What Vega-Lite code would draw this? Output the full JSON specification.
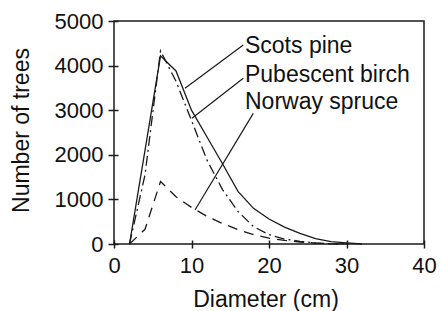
{
  "$schema": "https://vega.github.io/schema/vega-lite/v6.json",
  "width": 310,
  "height": 223,
  "autosize": {"type": "none"},
  "padding": {"left": 114, "top": 21, "right": 17, "bottom": 67},
  "background": "white",
  "config": {
    "view": {"stroke": null},
    "font": "Liberation Sans"
  },
  "datasets": {
    "curves": [
      {"species": "Scots pine", "d": 2, "n": 0},
      {"species": "Scots pine", "d": 4, "n": 2100},
      {"species": "Scots pine", "d": 6, "n": 4220},
      {"species": "Scots pine", "d": 8, "n": 3880},
      {"species": "Scots pine", "d": 10, "n": 3000},
      {"species": "Scots pine", "d": 12, "n": 2400},
      {"species": "Scots pine", "d": 14, "n": 1800},
      {"species": "Scots pine", "d": 16, "n": 1180},
      {"species": "Scots pine", "d": 18, "n": 800},
      {"species": "Scots pine", "d": 20, "n": 560},
      {"species": "Scots pine", "d": 22, "n": 380},
      {"species": "Scots pine", "d": 24, "n": 240},
      {"species": "Scots pine", "d": 26, "n": 120},
      {"species": "Scots pine", "d": 28, "n": 55},
      {"species": "Scots pine", "d": 30, "n": 25},
      {"species": "Scots pine", "d": 32, "n": 0},
      {"species": "Pubescent birch", "d": 2, "n": 0},
      {"species": "Pubescent birch", "d": 4, "n": 1550},
      {"species": "Pubescent birch", "d": 6, "n": 4330},
      {"species": "Pubescent birch", "d": 8, "n": 3650},
      {"species": "Pubescent birch", "d": 10, "n": 2770},
      {"species": "Pubescent birch", "d": 12, "n": 1880},
      {"species": "Pubescent birch", "d": 14, "n": 1220},
      {"species": "Pubescent birch", "d": 16, "n": 730},
      {"species": "Pubescent birch", "d": 18, "n": 390},
      {"species": "Pubescent birch", "d": 20, "n": 210},
      {"species": "Pubescent birch", "d": 22, "n": 110},
      {"species": "Pubescent birch", "d": 24, "n": 60},
      {"species": "Pubescent birch", "d": 26, "n": 25},
      {"species": "Pubescent birch", "d": 28, "n": 5},
      {"species": "Pubescent birch", "d": 30, "n": 0},
      {"species": "Norway spruce", "d": 2, "n": 0},
      {"species": "Norway spruce", "d": 4, "n": 330},
      {"species": "Norway spruce", "d": 6, "n": 1400},
      {"species": "Norway spruce", "d": 8, "n": 1060},
      {"species": "Norway spruce", "d": 10, "n": 820},
      {"species": "Norway spruce", "d": 12, "n": 620},
      {"species": "Norway spruce", "d": 14, "n": 460},
      {"species": "Norway spruce", "d": 16, "n": 320},
      {"species": "Norway spruce", "d": 18, "n": 210},
      {"species": "Norway spruce", "d": 20, "n": 130},
      {"species": "Norway spruce", "d": 22, "n": 80},
      {"species": "Norway spruce", "d": 24, "n": 45},
      {"species": "Norway spruce", "d": 26, "n": 20},
      {"species": "Norway spruce", "d": 28, "n": 5},
      {"species": "Norway spruce", "d": 30, "n": 0}
    ],
    "annot": [
      {"species": "Scots pine", "tx": 16.9, "ty": 4276, "lx1": 16.68, "ly1": 4462, "lx2": 9.16, "ly2": 3491},
      {"species": "Pubescent birch", "tx": 16.9, "ty": 3639, "lx1": 16.68, "ly1": 3715, "lx2": 10.06, "ly2": 2818},
      {"species": "Norway spruce", "tx": 16.9, "ty": 3020, "lx1": 17.97, "ly1": 2930, "lx2": 10.45, "ly2": 762}
    ],
    "box": [
      {"x0": 0, "x1": 40, "y0": 0, "y1": 5000}
    ]
  },
  "layer": [
    {
      "data": {"name": "box"},
      "mark": {"type": "rect", "fill": "transparent", "stroke": "#1a1a1a", "strokeWidth": 1.5},
      "encoding": {
        "x": {
          "field": "x0", "type": "quantitative",
          "scale": {"domain": [0, 40], "nice": false},
          "axis": {
            "values": [0, 5, 10, 15, 20, 25, 30, 35, 40],
            "labelExpr": "datum.value % 10 === 0 ? datum.label : ''",
            "domain": false, "grid": false,
            "offset": -4, "tickSize": 8, "tickColor": "#1a1a1a", "tickWidth": 1.5,
            "labelFontSize": 22, "labelColor": "#111", "labelPadding": 7,
            "labelFont": "Liberation Sans", "labelFlush": false,
            "title": "Diameter (cm)", "titleFontSize": 23, "titleFontWeight": "normal",
            "titleFont": "Liberation Sans", "titleColor": "#111",
            "titleX": 151.5, "titleY": 66, "titleBaseline": "alphabetic", "titleAlign": "center"
          }
        },
        "x2": {"field": "x1"},
        "y": {
          "field": "y0", "type": "quantitative",
          "scale": {"domain": [0, 5000], "nice": false},
          "axis": {
            "values": [0, 1000, 2000, 3000, 4000, 5000],
            "format": "d",
            "domain": false, "grid": false,
            "offset": -4, "tickSize": 10, "tickColor": "#1a1a1a", "tickWidth": 1.5,
            "labelFontSize": 22, "labelColor": "#111", "labelPadding": 5,
            "labelFont": "Liberation Sans", "labelFlush": false,
            "title": "Number of trees", "titleFontSize": 23, "titleFontWeight": "normal",
            "titleFont": "Liberation Sans", "titleColor": "#111",
            "titleX": -90, "titleY": 109, "titleBaseline": "alphabetic", "titleAlign": "center", "titleAngle": -90
          }
        },
        "y2": {"field": "y1"}
      }
    },
    {
      "data": {"name": "curves"},
      "transform": [{"filter": "datum.species === 'Scots pine'"}],
      "mark": {"type": "line", "color": "#1a1a1a", "strokeWidth": 1.3},
      "encoding": {
        "x": {"field": "d", "type": "quantitative"},
        "y": {"field": "n", "type": "quantitative"}
      }
    },
    {
      "data": {"name": "curves"},
      "transform": [{"filter": "datum.species === 'Pubescent birch'"}],
      "mark": {"type": "line", "color": "#1a1a1a", "strokeWidth": 1.3, "strokeDash": [10, 4, 2, 4]},
      "encoding": {
        "x": {"field": "d", "type": "quantitative"},
        "y": {"field": "n", "type": "quantitative"}
      }
    },
    {
      "data": {"name": "curves"},
      "transform": [{"filter": "datum.species === 'Norway spruce'"}],
      "mark": {"type": "line", "color": "#1a1a1a", "strokeWidth": 1.3, "strokeDash": [10, 7]},
      "encoding": {
        "x": {"field": "d", "type": "quantitative"},
        "y": {"field": "n", "type": "quantitative"}
      }
    },
    {
      "data": {"name": "annot"},
      "mark": {"type": "rule", "color": "#1a1a1a", "strokeWidth": 1.2},
      "encoding": {
        "x": {"field": "lx1", "type": "quantitative"},
        "y": {"field": "ly1", "type": "quantitative"},
        "x2": {"field": "lx2"},
        "y2": {"field": "ly2"}
      }
    },
    {
      "data": {"name": "annot"},
      "mark": {"type": "text", "align": "left", "baseline": "alphabetic", "fontSize": 23, "font": "Liberation Sans", "color": "#111"},
      "encoding": {
        "x": {"field": "tx", "type": "quantitative"},
        "y": {"field": "ty", "type": "quantitative"},
        "text": {"field": "species"}
      }
    }
  ]
}
